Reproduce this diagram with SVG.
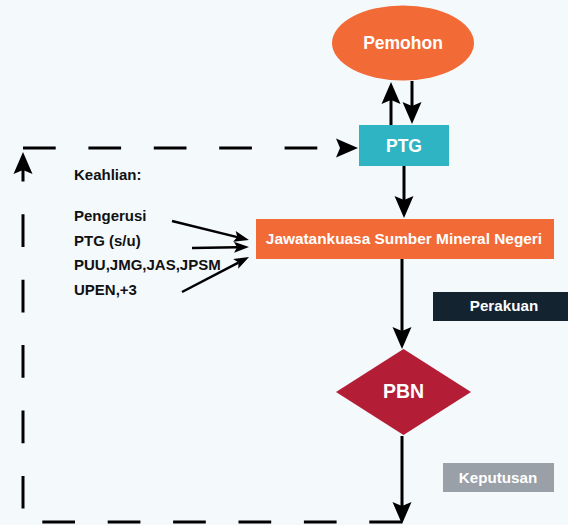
<svg xmlns="http://www.w3.org/2000/svg" width="568" height="525" viewBox="0 0 568 525">
<defs>
<style>
.lbl{font-family:"Liberation Sans",Arial,sans-serif;font-weight:bold;text-anchor:middle;fill:#ffffff}
.side{font-family:"Liberation Sans",Arial,sans-serif;font-weight:bold;font-size:15px;fill:#111111}
.ln{stroke:#000;stroke-width:3;fill:none}
.dash{stroke:#000;stroke-width:3;fill:none;stroke-dasharray:32.7 32.7}
.thin{stroke:#000;stroke-width:2.5;fill:none}
</style>
<marker id="ah" markerUnits="userSpaceOnUse" markerWidth="22" markerHeight="19" refX="4" refY="9.5" orient="auto" overflow="visible">
<path d="M0,0 L22,9.5 L0,19 L4,9.5 Z" fill="#000"/>
</marker>
<marker id="as" markerUnits="userSpaceOnUse" markerWidth="15" markerHeight="11" refX="3" refY="5.5" orient="auto" overflow="visible">
<path d="M0,0 L15,5.5 L0,11 L3,5.5 Z" fill="#000"/>
</marker>
</defs>
<rect x="0" y="0" width="568" height="525" fill="#f4f9fc"/>

<g id="connectors">
<line class="ln" x1="391" y1="125" x2="391" y2="100" marker-end="url(#ah)"/>
<line class="ln" x1="412" y1="81" x2="412" y2="106" marker-end="url(#ah)"/>
<line class="ln" x1="404" y1="166" x2="404" y2="200" marker-end="url(#ah)"/>
<line class="ln" x1="402" y1="259" x2="402" y2="331" marker-end="url(#ah)"/>
<line class="ln" x1="402" y1="436" x2="402" y2="506" marker-end="url(#ah)"/>
<path class="dash" d="M402,522 H23 V170" marker-end="url(#ah)"/>
<path class="dash" d="M23,148 H340" marker-end="url(#ah)"/>
<line class="thin" x1="172" y1="221" x2="237.3" y2="237.1" marker-end="url(#as)"/>
<line class="thin" x1="192" y1="248" x2="237" y2="247.2" marker-end="url(#as)"/>
<line class="thin" x1="182" y1="292" x2="238.4" y2="262.6" marker-end="url(#as)"/>
</g>

<g id="pemohon">
<ellipse cx="403" cy="43" rx="71" ry="37.5" fill="#f26a36"/>
<text class="lbl" x="403" y="49" font-size="17.5">Pemohon</text>
</g>

<g id="ptg">
<rect x="359" y="125" width="90" height="41" fill="#2fb4c3"/>
<text class="lbl" x="404" y="152" font-size="17.5">PTG</text>
</g>

<g id="jsmn">
<rect x="256" y="219" width="298" height="40" fill="#f26a36"/>
<text class="lbl" x="404" y="244" font-size="15.4">Jawatankuasa Sumber Mineral Negeri</text>
</g>

<g id="pbn">
<polygon points="403.5,349 471,392 403.5,435 336,392" fill="#b31e36"/>
<text class="lbl" x="403.5" y="398" font-size="19.5">PBN</text>
</g>

<g id="perakuan">
<rect x="433" y="292" width="135" height="29" fill="#13232f"/>
<text class="lbl" x="504" y="311" font-size="15.2">Perakuan</text>
</g>

<g id="keputusan">
<rect x="443" y="463" width="111" height="29" fill="#9aa0a8"/>
<text class="lbl" x="498" y="483" font-size="15.2" fill="#f2f2f2">Keputusan</text>
</g>

<g id="keahlian">
<text class="side" x="74" y="180">Keahlian:</text>
<text class="side" x="74" y="221">Pengerusi</text>
<text class="side" x="74" y="246">PTG (s/u)</text>
<text class="side" x="74" y="270">PUU,JMG,JAS,JPSM</text>
<text class="side" x="74" y="295">UPEN,+3</text>
</g>
</svg>
